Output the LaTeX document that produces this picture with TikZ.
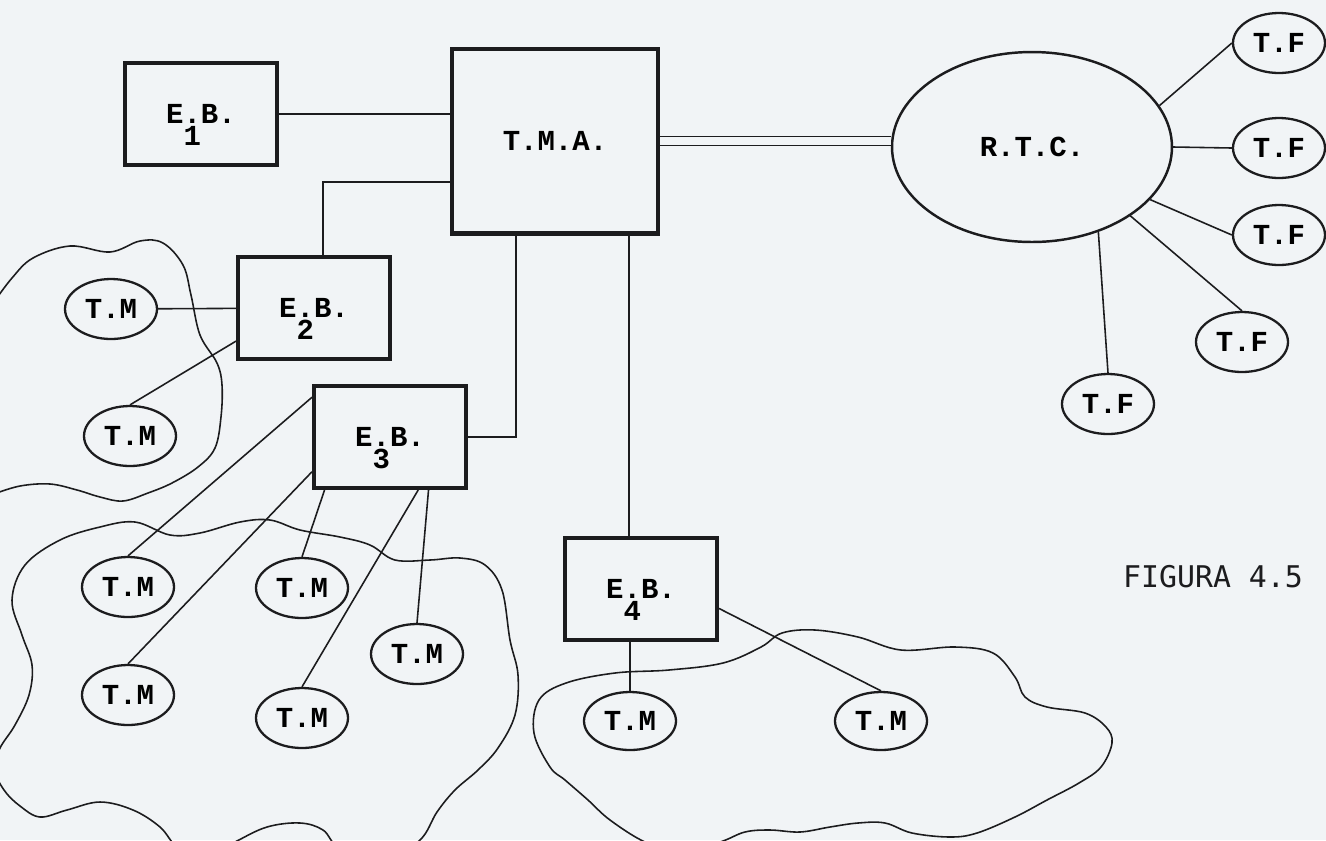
\documentclass[tikz,border=0pt]{standalone}
\usepackage{fontspec}
\newfontfamily\dotfont{Liberation Mono}
\newfontfamily\figfont{DejaVu Sans Mono}
\newcommand{\lbl}{\dotfont\bfseries\fontsize{16.5}{20}\selectfont}
% station label, with its number printed under the first dot
\newcommand{\ebname}[1]{E\rlap{\smash{\raisebox{-0.43cm}{#1}}}.B.}
\usetikzlibrary{shapes.geometric}
\definecolor{ink}{RGB}{28,28,30}
\definecolor{paper}{RGB}{241,244,246}
\tikzset{
  wire/.style={draw=ink, line width=0.9pt},
  cloud/.style={draw=ink, line width=0.9pt},
  dbl/.style={draw=ink, line width=0.8pt, double=paper, double distance=0.15cm},
  ebbox/.style={draw=ink, line width=2.3pt, minimum width=3.04cm, minimum height=2.04cm, inner sep=0pt, font=\lbl},
  term/.style={ellipse, draw=ink, line width=1.3pt, minimum width=1.84cm, minimum height=1.2cm, inner sep=0pt, font=\lbl},
}
\begin{document}
\begin{tikzpicture}[x=0.02cm, y=-0.02cm]
    \useasboundingbox (0,0) rectangle (1326,840);
    \fill[paper] (0,0) rectangle (1326,840);
    \clip (0,0) rectangle (1326,840);

    % switching centres and the public network
    \node[ebbox] (eb1) at (201,114) {\ebname{1}};
    \node[ebbox] (eb2) at (314,308) {\ebname{2}};
    \node[ebbox] (eb3) at (390,437) {\ebname{3}};
    \node[ebbox] (eb4) at (641,589) {\ebname{4}};
    \node[ebbox, minimum width=4.12cm, minimum height=3.7cm] (tma) at (555,141) {T.M.A.};
    \node[term, line width=1.4pt, minimum width=5.6cm, minimum height=3.8cm] (rtc) at (1032,147) {R.T.C.};

    % fixed terminals
    \node[term] (tf1) at (1279,43) {T.F};
    \node[term] (tf2) at (1279,148) {T.F};
    \node[term] (tf3) at (1279,235) {T.F};
    \node[term] (tf4) at (1242,342) {T.F};
    \node[term] (tf5) at (1108,404) {T.F};

    % mobile terminals
    \node[term] (tm1) at (111,309) {T.M};
    \node[term] (tm2) at (130,436) {T.M};
    \node[term] (tm3) at (128,587) {T.M};
    \node[term] (tm4) at (302,588) {T.M};
    \node[term] (tm5) at (128,695) {T.M};
    \node[term] (tm6) at (302,718) {T.M};
    \node[term] (tm7) at (417,654) {T.M};
    \node[term, minimum height=1.16cm] (tm8) at (630,721) {T.M};
    \node[term, minimum height=1.16cm] (tm9) at (881,721) {T.M};

    \node[font=\figfont\fontsize{17}{20}\selectfont, text=ink] (fig) at (1213,577) {FIGURA 4.5};

    % radio cells
    \draw[cloud] plot[smooth, tension=0.6] coordinates {
        (-6,302) (12,278) (33,258) (70,246) (110,252) (140,241) (163,243) (183,265)
        (191,295) (200,335) (217,363) (222,385) (221,417) (215,448) (198,467)
        (172,483) (148,493) (123,501) (100,497) (77,490) (50,484) (20,486) (-6,494)};
    \draw[cloud] plot[smooth cycle, tension=0.6] coordinates {
        (25,565) (12,600) (22,635) (32,665) (29,695) (15,725) (0,748) (-6,768)
        (4,790) (20,806) (40,817) (67,810) (100,802) (133,810) (160,827) (178,848)
        (205,858) (235,842) (267,827) (300,823) (323,830) (340,848) (385,860)
        (420,840) (437,812) (455,790) (478,770) (498,748) (515,715) (518,675)
        (510,640) (502,590) (485,565) (460,558) (430,560) (395,560) (370,545)
        (340,537) (300,530) (270,520) (240,522) (200,533) (170,535) (135,522)
        (100,527) (60,540)};
    \draw[cloud] plot[smooth cycle, tension=0.6] coordinates {
        (566,683) (615,673) (669,670) (723,663) (761,647) (782,633) (815,630)
        (858,637) (901,650) (955,647) (993,653) (1015,677) (1025,697) (1047,707)
        (1085,713) (1106,727) (1112,743) (1101,767) (1079,783) (1047,800)
        (1015,817) (977,833) (950,837) (912,833) (885,823) (858,823) (830,827)
        (800,832) (770,830) (745,832) (720,842) (680,852) (645,842) (610,820)
        (588,800) (565,780) (550,767) (534,733) (539,700)};

    % links to the switching centre
    \draw[wire] (eb1.east) -- (eb1.east -| tma.west);
    \draw[wire] ([yshift=-0.82cm]tma.west) -| ([xshift=0.18cm]eb2.north);
    \draw[wire] (eb3.east) -| ([xshift=-0.78cm]tma.south);
    \draw[wire] ([xshift=1.48cm]tma.south) -- ([xshift=1.48cm]tma.south |- eb4.north);
    \draw[dbl] (tma.east) -- (tma.east -| rtc.west);

    % fixed lines
    \draw[wire] (rtc.18) -- (tf1.west);
    \draw[wire] (rtc.east) -- (tf2.west);
    \draw[wire] (rtc.336) -- (tf3.west);
    \draw[wire] (rtc.325) -- (tf4.north);
    \draw[wire] (rtc.308) -- (tf5.north);

    % radio links
    \draw[wire] (tm1) -- (eb2);
    \draw[wire] (eb2.203) -- (tm2.north);
    \draw[wire] (eb3.153) -- (tm3.north);
    \draw[wire] (eb3.204) -- (tm5.north);
    \draw[wire] (eb3.219) -- (tm4.north);
    \draw[wire] (eb3.298) -- (tm6.north);
    \draw[wire] (eb3.306) -- (tm7.north);
    \draw[wire] (tm8.north) -- (tm8.north |- eb4.south);
    \draw[wire] (eb4.346) -- (tm9.north);
\end{tikzpicture}
\end{document}
